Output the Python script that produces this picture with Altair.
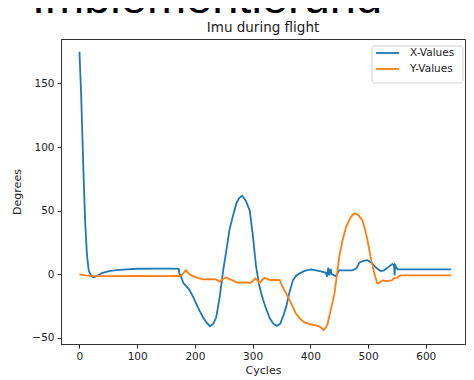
import altair as alt
import pandas as pd

# X-Values (blue) series
x_cycles = [0, 3, 7, 10, 13, 16, 20, 24, 30, 40, 53, 65, 82, 100, 130, 160, 172, 173, 176, 180,
            190, 197, 205, 214, 220, 226, 232, 237, 243, 249, 255, 260, 266, 272, 277, 282, 288,
            295, 300, 306, 312, 318, 324, 330, 336, 342, 348, 353, 358, 364, 370, 376, 381, 390,
            401, 410, 420, 427, 429, 431, 433, 435, 437, 444, 450, 460, 473, 480, 485, 492, 499,
            506, 514, 522, 528, 535, 542, 545, 546, 547, 551, 570, 600, 644]
x_values = [175, 140, 79, 40, 15, 3, -1, -2.6, -1.5, 1, 2.5, 3.2, 3.8, 4.2, 4.3, 4.3, 4.2, 0.5, -2, -7,
            -12, -18, -26, -34, -38, -41, -39, -34, -18, 3, 20, 35, 46, 56, 60, 61.7, 58,
            50, 32, 6, -10, -20, -28, -35, -39, -40.7, -39, -33, -26, -14, -4.7, -1, 0.5, 2.5,
            3.7, 3, 2, 1, -2, 5, -1, 4, 0, -1.6, 3, 3, 3, 4.5, 9, 10.5, 11,
            9, 5, 2.4, 3, 5.5, 7.9, 7, -1, 7, 3.7, 3.7, 3.7, 3.7]

# Y-Values (orange) series
y_cycles = [0, 10, 24, 60, 100, 140, 172, 176, 180, 184, 190, 197, 205, 214, 225, 237, 243, 248,
            254, 260, 266, 272, 277, 287, 297, 301, 305, 309, 312, 316, 321, 330, 340, 347, 352,
            358, 364, 370, 375, 382, 390, 400, 410, 417, 423, 427, 430, 436, 442, 446, 450, 456,
            462, 468, 473, 478, 484, 490, 495, 499, 505, 511, 516, 518, 525, 533, 541, 545, 550,
            554, 557, 572, 600, 644]
y_values = [-0.3, -1, -1.6, -1.6, -1.5, -1.6, -1.5, -1, 0.5, 3, 0, -1.6, -3, -4.2, -4, -4.2, -6, -4,
            -2.6, -4, -5, -6.5, -6.8, -6.5, -6.8, -5, -3.4, -5, -7, -5, -3, -4.7, -4.5, -4.7, -10,
            -15, -20.5, -26, -31, -35, -38, -39.5, -40.4, -41.5, -44, -42, -39, -27, -15, -1, 13.6, 27,
            37, 43, 46.5, 47.8, 46, 42.5, 35, 26.8, 12, 0.5, -7.3, -7.3, -5, -5.5, -5, -3.4, -3,
            -1.6, -1, -1, -1, -1]

series_names = ["X-Values", "Y-Values"]
series_colors = ["#1f77b4", "#ff7f0e"]
y_ticks = [-50, 0, 50, 100, 150]
x_ticks = [0, 100, 200, 300, 400, 500, 600]
heading_text = ["Implementierung"]
title_text = ["Imu during flight"]

rows = []
for i, (c, v) in enumerate(zip(x_cycles, x_values)):
    rows.append({"cycle": c, "deg": v, "series": series_names[0], "ord": i})
for i, (c, v) in enumerate(zip(y_cycles, y_values)):
    rows.append({"cycle": c, "deg": v, "series": series_names[1], "ord": i})
df = pd.DataFrame(rows)

FONT = "DejaVu Sans"
TXT = "#222222"
color_scale = alt.Scale(domain=series_names, range=series_colors)
one = pd.DataFrame({"k": [0]})

# light gray page strips around the screenshot
strip_left = alt.Chart(one).mark_rect(color="#efefef").encode(
    x=alt.value(-61), x2=alt.value(-53), y=alt.value(-39), y2=alt.value(337))
strip_top = alt.Chart(one).mark_rect(color="#efefef").encode(
    x=alt.value(-61), x2=alt.value(413), y=alt.value(-39), y2=alt.value(-36))

# large slide heading, cut off by the top edge and by the chart image below it
big = alt.Chart(pd.DataFrame({"t": heading_text})).mark_text(
    align="left", baseline="alphabetic", fontSize=47, font="Liberation Sans", color="black"
).encode(x=alt.value(-29), y=alt.value(-26.5), text="t:N")

cover = alt.Chart(one).mark_rect(color="white").encode(
    x=alt.value(-40), x2=alt.value(340), y=alt.value(-26), y2=alt.value(-15))

title = alt.Chart(pd.DataFrame({"t": title_text})).mark_text(
    align="center", baseline="alphabetic", fontSize=13.5, font=FONT, color=TXT
).encode(x=alt.value(202), y=alt.value(-7), text="t:N")

lines = alt.Chart(df).mark_line(strokeWidth=1.8).encode(
    x=alt.X("cycle:Q", scale=alt.Scale(domain=[-32, 668], nice=False, zero=False),
            axis=alt.Axis(values=x_ticks, title="Cycles", grid=False, tickSize=4,
                          tickColor=TXT, domainColor="#333333", labelFontSize=10.5,
                          labelFont=FONT, labelColor=TXT, labelPadding=3,
                          titleFont=FONT, titleFontSize=11, titleFontWeight="normal",
                          titleColor=TXT, titlePadding=3, labelFlush=False)),
    y=alt.Y("deg:Q", scale=alt.Scale(domain=[-55, 185], nice=False, zero=False),
            axis=alt.Axis(values=y_ticks, title="Degrees", grid=False, tickSize=4,
                          tickColor=TXT, domainColor="#333333", labelFontSize=10.5,
                          labelFont=FONT, labelColor=TXT, labelPadding=3,
                          titleFont=FONT, titleFontSize=11, titleFontWeight="normal",
                          titleColor=TXT, titlePadding=9, labelFlush=False)),
    color=alt.Color("series:N", scale=color_scale, legend=None),
    order="ord:Q",
)

# matplotlib-style legend
leg_df = pd.DataFrame({"series": series_names, "ly": [14 + 16 * i for i in range(len(series_names))]})
leg_box = alt.Chart(one).mark_rect(fill="white", stroke="#cccccc", strokeWidth=1,
                                   cornerRadius=3, opacity=0.9).encode(
    x=alt.value(311), x2=alt.value(402), y=alt.value(7), y2=alt.value(44))
leg_lines = alt.Chart(leg_df).mark_rule(strokeWidth=1.8).encode(
    x=alt.value(315), x2=alt.value(338), y=alt.Y("ly:Q", scale=None),
    color=alt.Color("series:N", scale=color_scale, legend=None))
leg_text = alt.Chart(leg_df).mark_text(align="left", baseline="middle", fontSize=10.5,
                                       font=FONT, color=TXT).encode(
    x=alt.value(349), y=alt.Y("ly:Q", scale=None), text="series:N")

chart = alt.layer(strip_left, strip_top, big, cover, title, lines, leg_box, leg_lines,
                  leg_text).properties(
    width=404, height=305,
    autosize=alt.AutoSizeParams(type="none"),
    padding={"left": 53, "top": 31, "right": 1, "bottom": 32},
).configure_view(stroke="#333333", strokeWidth=1)

chart.save("out.html", embed_options={"renderer": "svg", "actions": False})
